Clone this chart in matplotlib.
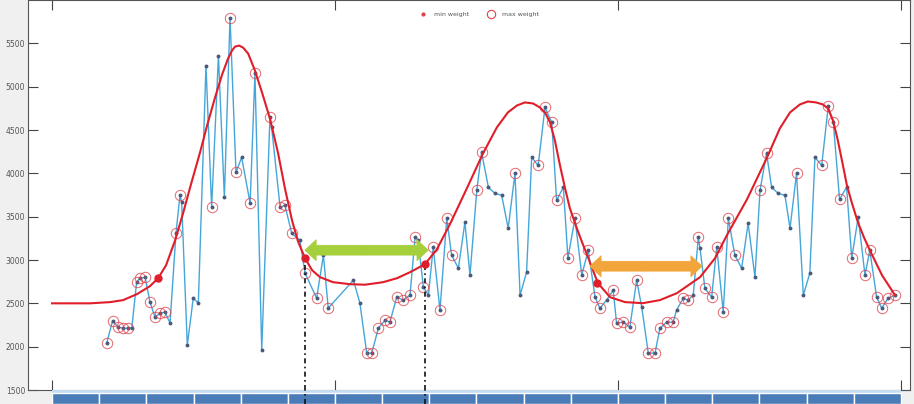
import matplotlib.pyplot as plt
from matplotlib.lines import Line2D
from matplotlib.patches import FancyArrowPatch

# Weight readings (blue line), x in days
days = [19.3, 21.4, 23.3, 25.1, 26.9, 28.2, 29.9, 31.1, 32.9, 34.6,
        36.4, 38.2, 39.9, 41.7, 43.8, 45.2, 45.8, 47.8, 49.9, 51.7,
        54.4, 56.4, 58.8, 60.9, 62.9, 65.0, 67.0, 70.0, 71.7, 74.1,
        77.0, 77.6, 80.6, 82.3, 84.7, 87.6, 89.4, 93.5, 95.9, 97.6,
        106.5, 108.8, 111.2, 113.0, 115.3, 117.7, 119.4, 121.8, 124.1, 126.5,
        128.3, 129.4, 131.2, 133.0, 134.7, 137.1, 139.5, 141.2, 143.6, 145.9,
        147.7, 150.1, 151.8, 154.2, 156.5, 158.9, 161.2, 163.6, 165.4, 167.7,
        169.5, 171.8, 174.2, 176.6, 178.3, 180.7, 182.3, 184.8, 187.2, 189.5,
        191.9, 193.6, 196.0, 198.3, 199.5, 201.9, 204.2, 206.6, 208.4, 210.7,
        213.1, 214.8, 217.2, 219.5, 220.7, 223.1, 224.8, 226.6, 228.4, 229.0,
        230.7, 233.1, 234.9, 237.2, 239.0, 241.3, 243.7, 246.0, 248.4, 250.2,
        252.5, 254.3, 256.6, 259.0, 260.8, 263.1, 265.5, 267.8, 269.6, 272.0,
        274.3, 276.1, 278.3, 280.8, 282.6, 284.9, 287.3, 289.0, 291.4, 293.2,
        295.5, 297.9]
weights = [2040, 2300, 2226, 2214, 2210, 2220, 2748, 2790, 2800, 2514,
           2341, 2387, 2400, 2272, 3309, 3746, 3666, 2018, 2560, 2502,
           5244, 3608, 5359, 3723, 5797, 4011, 4184, 3654, 5152, 1961,
           4645, 4530, 3608, 3631, 3309, 3228, 2848, 2560, 3055, 2445,
           2767, 2502, 1926, 1926, 2214, 2306, 2283, 2571, 2537, 2594,
           3263, 3228, 2687, 2594, 3147, 2422, 3481, 3055, 2905, 3435,
           2825, 3804, 4242, 3839, 3769, 3746, 3366, 4000, 2594, 2859,
           4184, 4092, 4760, 4587, 3689, 3839, 3021, 3481, 2825, 3113,
           2571, 2445, 2537, 2652, 2272, 2283, 2226, 2767, 2456, 1926,
           1926, 2214, 2283, 2283, 2422, 2560, 2537, 2594, 3263, 3136,
           2675, 2571, 3147, 2399, 3481, 3055, 2905, 3424, 2802, 3804,
           4230, 3839, 3769, 3746, 3366, 4000, 2594, 2848, 4184, 4092,
           4772, 4587, 3700, 3839, 3021, 3493, 2825, 3113, 2571, 2445,
           2560, 2594]

# point numbers (1-based) flagged as max weight
max_points = [1, 2, 3, 4, 5, 7, 8, 9, 10, 11, 12, 13, 15, 16, 22, 25, 26, 28, 29, 31,
              33, 34, 35, 37, 38, 40, 43, 44, 45, 46, 47, 48, 49, 50, 51, 53, 55, 56,
              57, 58, 62, 63, 68, 72, 73, 74, 75, 77, 78, 79, 80, 81, 82, 84, 85, 86,
              87, 88, 90, 91, 92, 93, 94, 96, 97, 99, 101, 102, 103, 104, 105, 106,
              110, 111, 116, 120, 121, 122, 123, 125, 127, 128, 129, 130, 131, 132]

# Smooth trend (red curve)
trend_days = [0, 13.4, 20.5, 25.1, 30.0, 34.6, 37.5, 40.3, 43.5, 46.3,
              48.8, 52.3, 54.8, 57.6, 60.1, 62.2, 63.6, 64.7, 66.1, 67.5,
              69.3, 71.7, 74.2, 77.0, 79.9, 82.3, 84.8, 86.9, 89.4, 91.9,
              94.7, 99.3, 105.3, 110.6, 117.0, 121.9, 126.5, 131.8, 136.0, 140.6,
              146.6, 152.3, 157.2, 161.1, 164.3, 167.1, 170.0, 172.4, 174.2, 176.0,
              177.7, 179.5, 181.3, 183.0, 185.2, 187.3, 189.4, 192.9, 197.2, 202.5,
              208.8, 214.8, 220.8, 229.0, 234.3, 238.5, 245.6, 252.7, 257.2, 260.8,
              264.3, 267.1, 270.0, 272.4, 274.2, 276.0, 277.7, 279.5, 280.9, 282.7,
              284.8, 286.9, 289.0, 293.3, 297.9]
trend_values = [2500, 2500, 2514, 2537, 2606, 2698, 2790, 2940, 3228, 3539,
                3839, 4242, 4553, 4875, 5140, 5325, 5417, 5463, 5474, 5451,
                5382, 5186, 4933, 4633, 4230, 3827, 3458, 3216, 3021, 2882,
                2802, 2744, 2721, 2715, 2744, 2790, 2859, 2952, 3124, 3412,
                3827, 4230, 4530, 4703, 4783, 4818, 4806, 4760, 4703, 4587,
                4380, 4092, 3827, 3597, 3389, 3205, 3032, 2733, 2571, 2514,
                2502, 2537, 2617, 2802, 3021, 3286, 3700, 4184, 4518, 4703,
                4795, 4829, 4818, 4795, 4749, 4610, 4380, 4092, 3862, 3654,
                3435, 3263, 3113, 2825, 2594]

# highlighted points on the trend
mark_days = [37.5, 89.4, 131.8, 192.6]
mark_values = [2790, 3021, 2952, 2733]
cut_days = [89.4, 131.8]
cut_values = [3021, 2952]

# double arrows: (start day, end day, level, colour)
arrows = [(89.4, 132.9, 3113, '#a6cf3c'),
          (190.1, 229.7, 2928, '#f2a53a')]

y_ticks = [1500, 2000, 2500, 3000, 3500, 4000, 4500, 5000, 5500]
x_ticks = [0, 100, 200, 300]
n_blocks = 18

fig = plt.figure(figsize=(9.14, 4.04), dpi=100, facecolor='#f0f0f0')
ax = fig.add_axes([28 / 914, 14 / 404, 882 / 914, 390 / 404])
ax.set_facecolor('white')

# blue readings with small dots
ax.plot(days, weights, color='#45a6d9', lw=1.0, zorder=2)
ax.plot(days, weights, ls='none', marker='o', ms=1.8, color='#4a5a78', zorder=3)

# circles for the max weight points
mx = [days[i - 1] for i in max_points]
my = [weights[i - 1] for i in max_points]
ax.plot(mx, my, ls='none', marker='o', ms=7.5, mfc='none', mec='#e0404c',
        mew=0.7, alpha=0.8, zorder=4)

# red trend curve and its marked points
ax.plot(trend_days, trend_values, color='#e01e2a', lw=1.5, zorder=5,
        solid_joinstyle='round')
ax.plot(mark_days, mark_values, ls='none', marker='o', ms=5, color='#e01e2a', zorder=6)

# dash-dot drop lines
ax.vlines(cut_days, 1500, cut_values, colors='#111111', lw=1.2,
          linestyles=(0, (3, 2, 1, 2)), zorder=4)

# double headed block arrows, drawn as two halves from the middle
for a, b, lvl, face in arrows:
    mid = (a + b) / 2
    for end in (a, b):
        arr = FancyArrowPatch((mid, lvl), (end, lvl),
                              arrowstyle='simple,head_length=0.8,head_width=1.5,tail_width=0.7',
                              mutation_scale=10, fc=face, ec=face, lw=0.6,
                              shrinkA=0, shrinkB=0, zorder=7)
        ax.add_patch(arr)

ax.set_xlim(-8.5, 303.2)
ax.set_ylim(1500, 6000)
ax.set_yticks(y_ticks)
ax.set_yticklabels([str(t) for t in y_ticks], fontsize=5.5, color='#555555')
ax.set_xticks(x_ticks)
ax.set_xticklabels([])
ax.tick_params(axis='both', direction='in', length=7, width=0.8, color='#444444',
               top=True, right=True, pad=2)
for s in ax.spines.values():
    s.set_color('#555555')
    s.set_linewidth(0.8)

# legend
handles = [Line2D([], [], ls='none', marker='.', ms=4, color='#e0404c'),
           Line2D([], [], ls='none', marker='o', ms=6, mfc='none', mec='#e0404c', mew=0.8)]
ax.legend(handles, ['min weight', 'max weight'], loc='upper center',
          bbox_to_anchor=(0.51, 0.985), ncol=2, frameon=False, fontsize=4.5,
          handletextpad=0.8, columnspacing=2.5, labelcolor='#555555')

# blue block bar below the plot
bar = fig.add_axes([28 / 914, 0, 882 / 914, 14 / 404])
bar.set_xlim(ax.get_xlim())
bar.set_ylim(0, 1)
bar.axis('off')
step = x_ticks[-1] / n_blocks
bar.broken_barh([(0, x_ticks[-1])], (0.78, 0.22), facecolors='#c4dcf1')
bar.broken_barh([(i * step, step) for i in range(n_blocks)], (0, 0.78),
                facecolors='#4a7db8', edgecolors='white', linewidth=1)
for d in cut_days:
    bar.axvline(d, color='#111111', lw=1.2, ls=(0, (3, 2, 1, 2)))

fig.savefig('out.png', dpi=100, facecolor=fig.get_facecolor())
